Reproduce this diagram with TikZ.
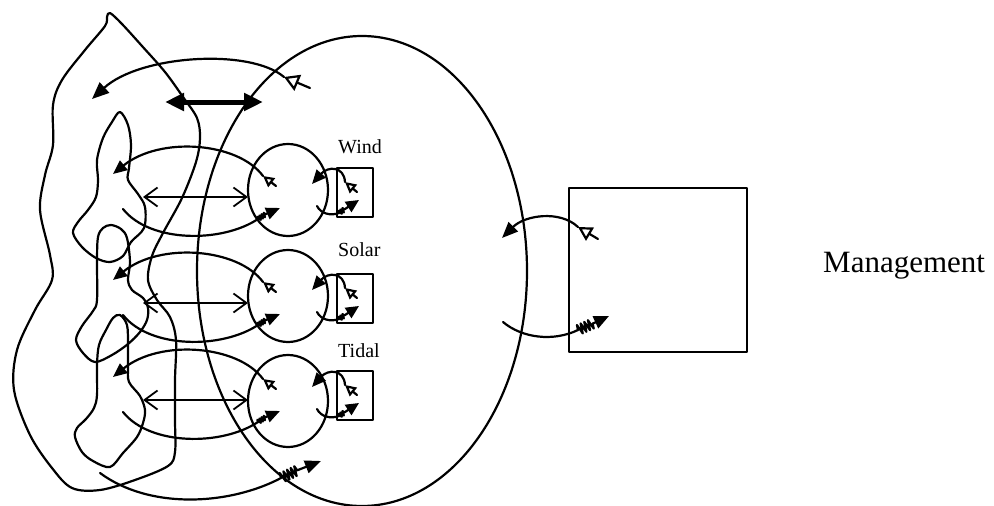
\documentclass[tikz,border=0pt]{standalone}
\usepackage{fontspec}
\setmainfont{Liberation Serif}
\usetikzlibrary{arrows.meta,decorations.pathmorphing,shapes.geometric}
\begin{document}
\begin{tikzpicture}[x=1pt,y=-1pt,
  ln/.style={line width=2.2pt, line join=round, line cap=round},
  fa/.style={ln,-{Triangle[length=14pt,width=12pt]}},
  oa/.style={ln,-{Triangle[open,length=11pt,width=11pt]}},
  bigoa/.style={ln,-{Triangle[open,length=15pt,width=17pt]}},
  dbl/.style={line width=1.8pt,{Straight Barb[length=13pt,width=19pt]}-{Straight Barb[length=13pt,width=19pt]}},
  zz/.style={ln,decorate,decoration={zigzag,segment length=4pt,amplitude=5pt}},
  tinyzz/.style={ln,decorate,decoration={zigzag,segment length=2.5pt,amplitude=2.2pt}},
  orb/.style={draw,ln,ellipse,inner sep=0pt},
  boxst/.style={draw,ln,rectangle,inner sep=0pt},
  lab/.style={anchor=base west,inner sep=0pt,font=\fontsize{20}{24}\selectfont}
]
\useasboundingbox (0,0) rectangle (994,506);

% outer land outline
\draw[ln] plot[smooth cycle, tension=0.55] coordinates {
 (110,13) (122,24) (142,46) (165,72) (183,97) (197,118) (200,138) (196,162)
 (182,198) (163,233) (152,256) (148,280) (157,300) (170,317) (176,340)
 (175,380) (175,420) (175,452) (168,466) (135,480) (100,490) (72,488)
 (52,468) (30,435) (14,390) (17,350) (35,310) (52,280) (50,255) (40,210)
 (45,175) (53,145) (53,105) (62,80) (85,50) (105,26) (107,17)};

% islands
\draw[ln] plot[smooth cycle, tension=0.55] coordinates {
 (120,112) (128,125) (131,145) (129,168) (128,180) (138,194) (145,207)
 (144,228) (131,242) (123,256) (110,262) (96,258) (82,247) (73,233)
 (78,222) (88,210) (96,197) (98,180) (97,160) (103,138) (112,122)};
\draw[ln] plot[smooth cycle, tension=0.55] coordinates {
 (111,225) (121,229) (127,238) (130,262) (128,280) (132,290) (143,298)
 (148,308) (147,320) (140,332) (128,344) (112,355) (95,362) (83,353)
 (76,340) (82,326) (93,311) (97,300) (97,260) (98,237) (103,228)};
\draw[ln] plot[smooth cycle, tension=0.55] coordinates {
 (120,315) (127,325) (128,345) (128,367) (129,382) (140,396) (145,410)
 (143,423) (137,437) (123,453) (110,467) (93,461) (82,452) (75,437)
 (77,428) (86,419) (94,408) (97,395) (97,365) (99,345) (106,330) (113,318)};

% big system ellipse
\node[orb, minimum width=330pt, minimum height=470pt] (sys) at (362,271) {};

% management box and label
\node[boxst, minimum width=178pt, minimum height=164pt] (mgmt) at (658,270) {};
\node[anchor=base west,inner sep=0pt,font=\fontsize{31}{36}\selectfont] (mlab) at (823,272) {Management};

% thick double arrow
\coordinate (ta) at (165,102);
\coordinate (tb) at (263,102);
\draw[line width=5pt,{Triangle[length=19pt,width=17pt]}-{Triangle[length=19pt,width=17pt]}] (ta) -- (tb);

% top arc
\coordinate (t0) at (310,88);
\coordinate (t1) at (284,77);
\coordinate (t2) at (92,99);
\draw[bigoa] (t0) -- (t1);
\draw[fa,-{Triangle[length=17pt,width=14pt]}] (t1) .. controls (250,48) and (140,55) .. (t2);

% management arrows
\coordinate (m0) at (598,239);
\coordinate (m1) at (578,227);
\coordinate (m2) at (502,238);
\draw[ln,-{Triangle[open,length=14pt,width=15pt]}] (m0) -- (m1);
\draw[fa,-{Triangle[length=16pt,width=13pt]}] (m1) .. controls (560,210) and (525,215) .. (m2);
\coordinate (n0) at (503,322);
\coordinate (n1) at (578,330);
\coordinate (n2) at (594,323);
\coordinate (n3) at (609,316);
\draw[ln] (n0) .. controls (522,338) and (553,342) .. (n1);
\draw[zz] (n1) -- (n2);
\draw[fa,-{Triangle[length=15pt,width=13pt]}] (n2) -- (n3);

% bottom arrow
\coordinate (b0) at (100,473);
\coordinate (b1) at (281,478);
\coordinate (b2) at (298,470);
\coordinate (b3) at (321,461);
\draw[ln] (b0) .. controls (150,510) and (230,505) .. (b1);
\draw[zz] (b1) -- (b2);
\draw[fa,-{Triangle[length=16pt,width=13pt]}] (b2) -- (b3);

% three rows
\foreach \n/\cy/\ry/\ly/\lab in {wind/190/0/153/Wind, solar/296/106/256/Solar, tidal/401/203/357/Tidal}{
  \node[orb, minimum width=80pt, minimum height=92pt] (\n) at (288,\cy) {};
  \node[boxst, minimum width=36pt, minimum height=49pt] (\n box) at (355,192.5+\ry) {};
  \node[lab] (\n lab) at (338,\ly) {\lab};
  % upper arc to land
  \coordinate (\n u0) at (276,186+\ry);
  \coordinate (\n u1) at (263,176+\ry);
  \coordinate (\n u2) at (113,174+\ry);
  \draw[oa] (\n u0) -- (\n u1);
  \draw[fa] (\n u1) .. controls (238,142+\ry) and (160,136+\ry) .. (\n u2);
  % double arrow
  \coordinate (\n d0) at (143,197+\ry);
  \coordinate (\n d1) at (248,197+\ry);
  \draw[dbl] (\n d0) -- (\n d1);
  % lower arc from land
  \coordinate (\n l0) at (123,209+\ry);
  \coordinate (\n l1) at (258,219+\ry);
  \coordinate (\n l2) at (266,214+\ry);
  \coordinate (\n l3) at (280,208+\ry);
  \draw[ln] (\n l0) .. controls (150,243+\ry) and (222,243+\ry) .. (\n l1);
  \draw[tinyzz] (\n l1) -- (\n l2);
  \draw[fa] (\n l2) -- (\n l3);
  % box to circle
  \coordinate (\n r0) at (357,192+\ry);
  \coordinate (\n r1) at (345,182+\ry);
  \coordinate (\n r2) at (312,184+\ry);
  \draw[oa] (\n r0) -- (\n r1);
  \draw[fa] (\n r1) .. controls (344,166+\ry) and (328,166+\ry) .. (\n r2);
  % circle to box
  \coordinate (\n s0) at (317,206+\ry);
  \coordinate (\n s1) at (339,213+\ry);
  \coordinate (\n s2) at (345,209+\ry);
  \coordinate (\n s3) at (359,200+\ry);
  \draw[ln] (\n s0) .. controls (321,214+\ry) and (331,216+\ry) .. (\n s1);
  \draw[tinyzz] (\n s1) -- (\n s2);
  \draw[fa,-{Triangle[length=13pt,width=12pt]}] (\n s2) -- (\n s3);
}
\end{tikzpicture}
\end{document}
